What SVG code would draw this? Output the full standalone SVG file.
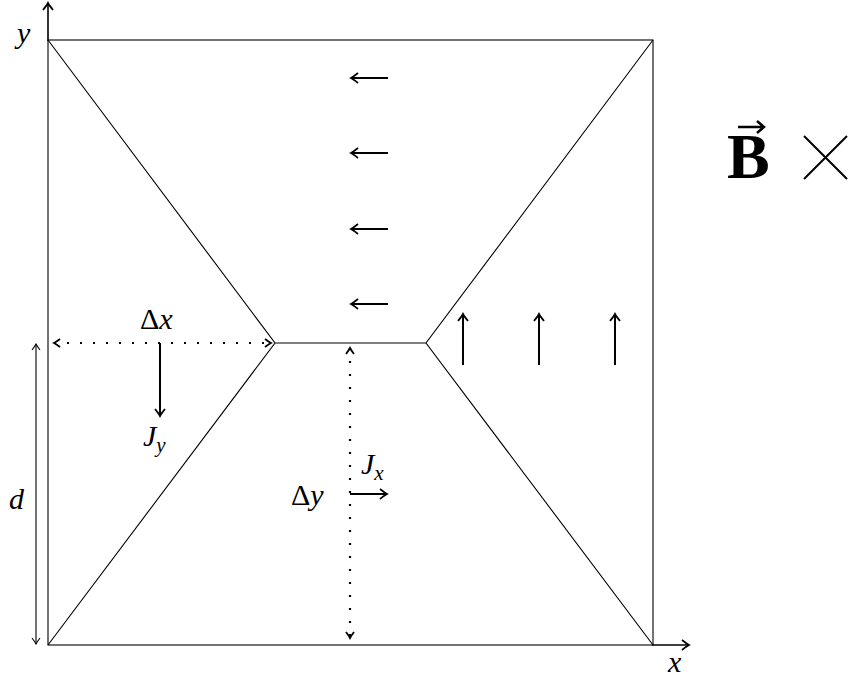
<svg xmlns="http://www.w3.org/2000/svg" width="852" height="680" viewBox="0 0 852 680">
<style>
.thin{stroke:#000;stroke-width:1.1;fill:none}
.ax{stroke:#000;stroke-width:1.6;fill:none}
.arr{stroke:#000;stroke-width:2;fill:none}
.dot{stroke:#000;stroke-width:2.2;fill:none;stroke-dasharray:2 11;stroke-linecap:butt}
.m{font-family:"Liberation Serif","DejaVu Serif",serif;font-style:italic;font-size:30px;fill:#000}
.r{font-family:"Liberation Serif","DejaVu Serif",serif;font-size:30px;fill:#000}
</style>
<defs>
<marker id="ah" viewBox="-10 -6 12 12" markerWidth="12" markerHeight="12" refX="0" refY="0" orient="auto" markerUnits="userSpaceOnUse">
<path d="M-7,-5 Q-2,-1 0,0 Q-2,1 -7,5" stroke="#000" stroke-width="1.8" fill="none"/>
</marker>
<marker id="ahs" viewBox="-10 -6 12 12" markerWidth="12" markerHeight="12" refX="0" refY="0" orient="auto-start-reverse" markerUnits="userSpaceOnUse">
<path d="M-6,-4 Q-2,-1 0,0 Q-2,1 -6,4" stroke="#000" stroke-width="1.8" fill="none"/>
</marker>
<marker id="aht" viewBox="-10 -6 12 12" markerWidth="12" markerHeight="12" refX="0" refY="0" orient="auto-start-reverse" markerUnits="userSpaceOnUse">
<path d="M-6,-4 Q-2,-1 0,0 Q-2,1 -6,4" stroke="#000" stroke-width="1.1" fill="none"/>
</marker>
</defs>
<g id="frame">
<rect x="48" y="40" width="605" height="605" class="thin"/>
<path class="thin" d="M48,40 L275,343 L48,645 M275,343 L426,343 M653,40 L426,343 L653,645"/>
</g>
<g id="axes">
<line class="ax" x1="48" y1="41" x2="48" y2="3" marker-end="url(#ah)"/>
<line class="ax" x1="652" y1="645" x2="689" y2="645" marker-end="url(#ah)"/>
<text class="m" x="17" y="43">y</text>
<text class="m" x="668" y="672">x</text>
</g>
<g id="connectors">
<line class="arr" x1="388" y1="78" x2="351" y2="78" marker-end="url(#ah)"/>
<line class="arr" x1="388" y1="153" x2="351" y2="153" marker-end="url(#ah)"/>
<line class="arr" x1="388" y1="229" x2="351" y2="229" marker-end="url(#ah)"/>
<line class="arr" x1="388" y1="304" x2="351" y2="304" marker-end="url(#ah)"/>
<line class="arr" x1="463" y1="365" x2="463" y2="314" marker-end="url(#ah)"/>
<line class="arr" x1="539" y1="365" x2="539" y2="314" marker-end="url(#ah)"/>
<line class="arr" x1="615" y1="365" x2="615" y2="314" marker-end="url(#ah)"/>
<line class="dot" x1="54" y1="343" x2="271" y2="343" marker-start="url(#ahs)" marker-end="url(#ahs)"/>
<line class="dot" x1="350" y1="348" x2="350" y2="638" marker-start="url(#ahs)" marker-end="url(#ahs)"/>
<line class="arr" x1="160" y1="343" x2="160" y2="416" marker-end="url(#ah)"/>
<line class="arr" x1="350" y1="494" x2="387" y2="494" marker-end="url(#ah)"/>
<line class="thin" x1="36" y1="344" x2="36" y2="644" marker-start="url(#aht)" marker-end="url(#aht)"/>
</g>
<g id="labels">
<text class="r" x="140" y="329">Δ<tspan font-style="italic">x</tspan></text>
<text class="m" x="143" y="446">J<tspan font-size="21" dy="6">y</tspan></text>
<text class="r" x="291" y="505">Δ<tspan font-style="italic">y</tspan></text>
<text class="m" x="361" y="474">J<tspan font-size="21" dy="6">x</tspan></text>
<text class="m" x="9" y="509">d</text>
</g>
<g id="field">
<text x="727" y="178" font-family="Liberation Serif,DejaVu Serif,serif" font-weight="bold" font-size="64">B</text>
<path d="M738,127 L763,127 M757,121 L764,127 L757,133" stroke="#000" stroke-width="2.5" fill="none"/>
<path d="M804,136 L847,179 M847,136 L804,179" stroke="#000" stroke-width="2" fill="none"/>
</g>
</svg>
